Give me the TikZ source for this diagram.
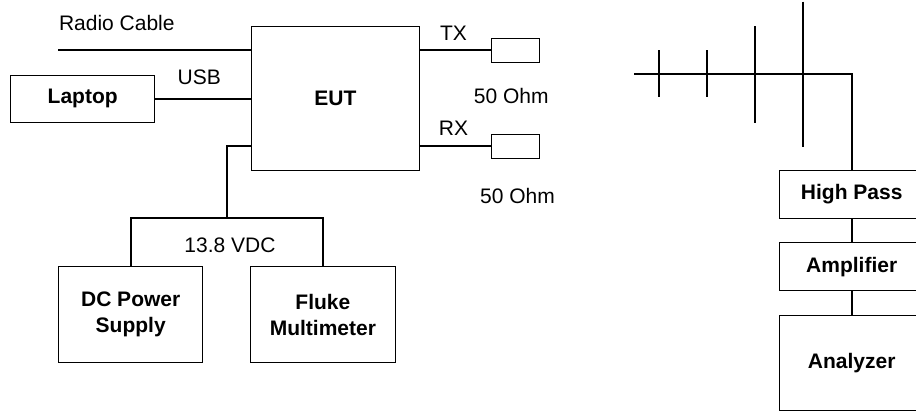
\documentclass[tikz,border=0pt]{standalone}
\usepackage{fontspec}
\setmainfont{Liberation Sans}
\begin{document}
\begin{tikzpicture}[x=0.5pt,y=-0.5pt,
  every node/.style={font=\fontsize{10.5}{13}\selectfont, inner sep=0pt, outer sep=0pt},
  box/.style={draw=black, line width=0.5pt, font=\fontsize{10.5}{13}\selectfont\bfseries, align=center},
  lbl/.style={text height=0.716em, text depth=0pt},
  wire/.style={line width=0.9pt, black}]
\useasboundingbox (0,0) rectangle (916,413);
\clip (0,0) rectangle (916,413);
% boxes
\node[box, minimum width=83.6pt, minimum height=72pt] (eut) at (335.4,98.7) {EUT};
\node[box, minimum width=72pt, minimum height=23.65pt] (lap) at (82.7,98.7) {Laptop};
\node[box, minimum width=24pt, minimum height=12pt] (tx) at (515,50.3) {};
\node[box, minimum width=24pt, minimum height=12pt] (rx) at (515,146.3) {};
\node[box, minimum width=72pt, minimum height=48pt] (dc) at (130.7,314.7) {DC Power\\Supply};
\node[box, minimum width=72.15pt, minimum height=48pt] (fl) at (322.85,314.7) {Fluke\\Multimeter};
\node[box, minimum width=72.35pt, minimum height=23.8pt] (hp) at (851.7,194.5) {High Pass};
\node[box, minimum width=72.35pt, minimum height=24pt] (amp) at (851.7,266.7) {Amplifier};
\node[box, minimum width=72.35pt, minimum height=47.85pt] (an) at (851.7,362.85) {Analyzer};
% labels
\node[lbl, anchor=west] (lrc) at (59,23.3) {Radio Cable};
\node[lbl] (lusb) at (199.3,77.3) {USB};
\node[lbl] (ltx) at (453.5,33.3) {TX};
\node[lbl] (lrx) at (453.5,128.3) {RX};
\node[lbl] (lo1) at (511.3,96) {50 Ohm};
\node[lbl] (lo2) at (517.5,196.7) {50 Ohm};
\node[lbl] (lvdc) at (230,245) {13.8 VDC};
% coordinates
\coordinate (rc) at (58,50.3);
\coordinate (pw) at (251.8,146);
\coordinate (j) at (226.7,218.3);
\coordinate (a0) at (634.3,74.3);
\coordinate (t1a) at (659.3,50);   \coordinate (t1b) at (659.3,96.7);
\coordinate (t2a) at (707,50);     \coordinate (t2b) at (707,96.7);
\coordinate (t3a) at (755,26);     \coordinate (t3b) at (755,122.7);
\coordinate (t4a) at (803,1.7);    \coordinate (t4b) at (803,146.7);
% connectors
\draw[wire] (rc) -- (rc -| eut.west);
\draw[wire] (lap.east) -- (lap.east -| eut.west);
\draw[wire] (eut.east |- tx.west) -- (tx.west);
\draw[wire] (eut.east |- rx.west) -- (rx.west);
\draw[wire] (pw) -| (j);
\draw[wire] (dc.north) |- (j) -| (fl.north);
\draw[wire] (a0) -| (hp.north);
\draw[wire] (t1a) -- (t1b);
\draw[wire] (t2a) -- (t2b);
\draw[wire] (t3a) -- (t3b);
\draw[wire] (t4a) -- (t4b);
\draw[wire] (hp.south) -- (amp.north);
\draw[wire] (amp.south) -- (an.north);
\end{tikzpicture}
\end{document}
